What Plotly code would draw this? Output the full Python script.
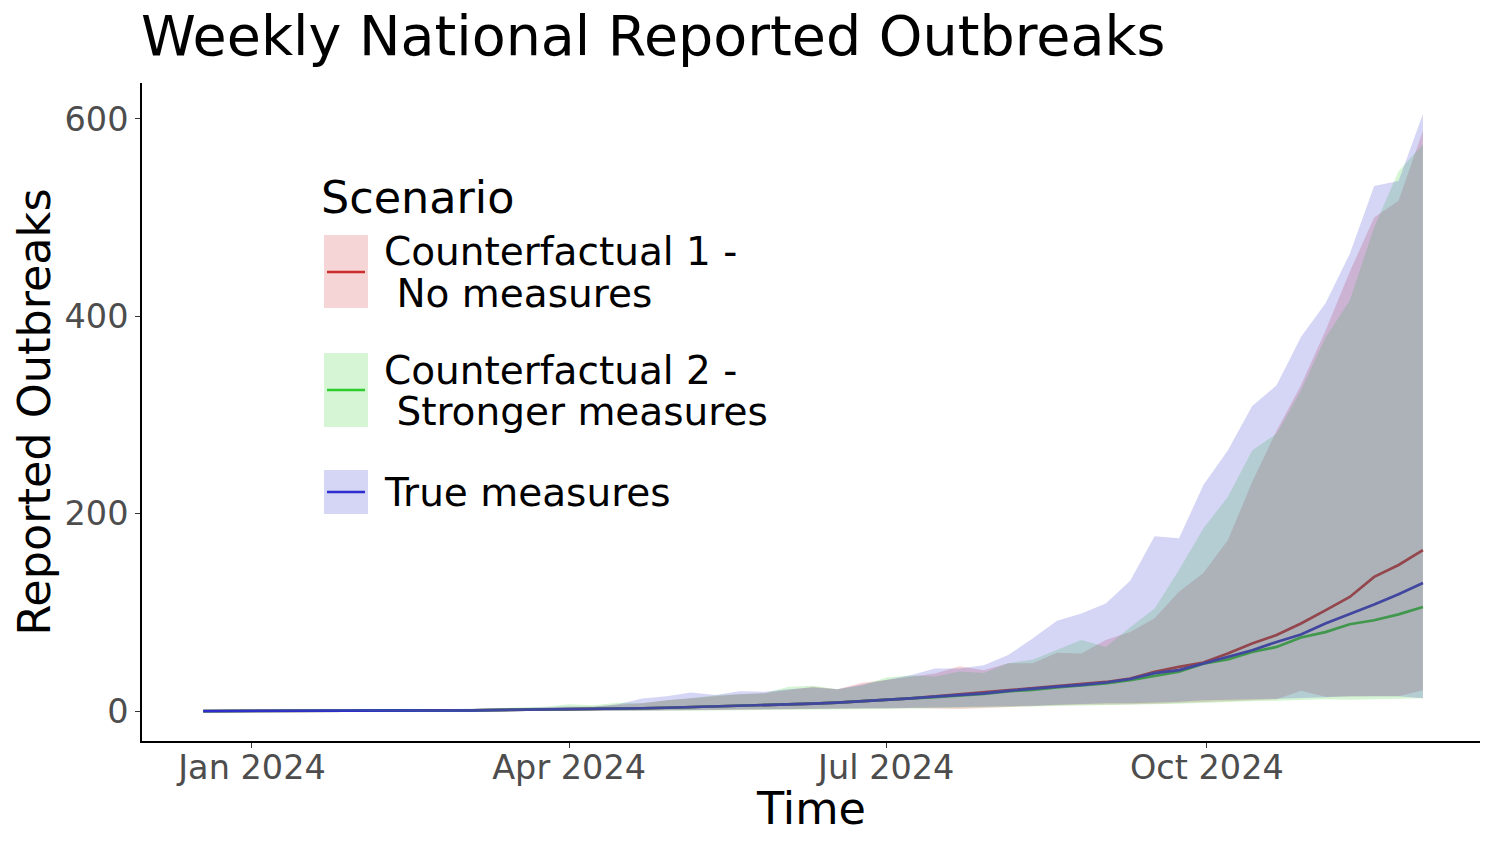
import pandas as pd
import plotly.graph_objects as go

# weekly dates, 18 Dec 2023 -> 2 Dec 2024
dates = pd.date_range("2023-12-18", periods=51, freq="7D")

# median reported outbreaks per scenario
med_cf1 = [0, 0, 0, 0.1, 0.1, 0.2, 0.3, 0.4, 0.5, 0.6,
           0.7, 0.8, 1.0, 1.2, 1.4, 1.7, 2.0, 2.4, 2.9, 3.4,
           4.0, 4.7, 5.4, 6.1, 6.8, 7.6, 8.6, 9.8, 11.2, 12.8,
           15.0, 17.0, 18.8, 21.5, 23.5, 25.0, 26.8, 29.5, 33.0, 39.8,
           44.8, 49.2, 58.4, 68.5, 77.0, 88.7, 102, 115.6, 136, 148, 163]
med_cf2 = [0, 0, 0, 0.1, 0.1, 0.2, 0.3, 0.4, 0.5, 0.6,
           0.7, 0.8, 1.0, 1.2, 1.4, 1.7, 2.0, 2.4, 2.9, 3.4,
           4.0, 4.7, 5.4, 6.1, 6.8, 7.6, 8.6, 9.8, 11.2, 12.8,
           14.2, 15.8, 17.5, 20.0, 21.5, 24.0, 26.0, 28.0, 31.4, 35.7,
           39.8, 48.0, 52.3, 60.0, 65.0, 74.5, 80.0, 88.0, 92.0, 98.0, 105.5]
med_true = [0, 0, 0, 0.1, 0.1, 0.2, 0.3, 0.4, 0.5, 0.6,
            0.7, 0.8, 1.0, 1.2, 1.4, 1.7, 2.0, 2.4, 2.9, 3.4,
            4.0, 4.7, 5.4, 6.1, 6.8, 7.6, 8.6, 9.8, 11.2, 12.8,
            14.6, 16.2, 18.0, 20.5, 22.8, 24.8, 26.5, 29.0, 32.5, 38.5,
            41.5, 48.2, 55.0, 61.7, 70.0, 77.6, 88.7, 98.0, 108, 118.4, 129.8]

# upper bounds
up_cf1 = [0, 0, 0.2, 0.3, 0.4, 0.6, 0.7, 0.9, 1.1, 1.4,
          1.7, 2.0, 2.4, 2.9, 3.5, 4.2, 4.5, 6.5, 8.0, 11,
          13, 15, 17, 18, 21, 24.6, 22, 28.7, 31.4, 34.7,
          38, 45.5, 41.5, 48.5, 48.5, 59, 58.4, 72, 80, 94,
          121, 140, 173, 232, 284, 330, 385, 445, 500, 517, 588]
up_cf2 = [0, 0, 0.2, 0.3, 0.5, 0.6, 0.8, 1.0, 1.3, 1.6,
          2.0, 2.4, 3.0, 3.6, 4.5, 7.0, 6.0, 8.5, 8.0, 11,
          13, 16, 17.2, 18, 24.6, 25.6, 22, 26, 34, 36,
          35, 40, 38.5, 48.5, 52, 62, 72, 65, 85, 104,
          143, 185, 217, 264, 281, 325, 378, 416, 490, 547, 574]
up_true = [0, 0, 0.2, 0.3, 0.4, 0.5, 0.7, 0.9, 1.2, 1.5,
           1.8, 2.1, 2.6, 3.1, 3.8, 4.6, 4.4, 7.0, 12.8, 15,
           18.9, 16.2, 20.2, 19.6, 22, 24, 22, 27, 32, 36.4,
           43.2, 43.2, 46.5, 56.7, 73.5, 91.4, 98.8, 109, 132, 177,
           175, 229, 264, 309, 330, 379, 413, 463, 532, 537, 605]

# lower bounds
lo_cf1 = [0] * 18 + [0.3, 0.5, 0.8, 1.0, 1.2, 1.5, 1.8, 2.0, 2.2, 2.5, 3.0, 3.2,
                     2.5, 2.0, 3.5, 4.4, 5.0, 6.0, 6.5, 7.0, 7.0, 7.5,
                     8.0, 9.5, 10, 11, 12, 20.6, 14.5, 14.5, 15, 15, 21]
lo_cf2 = [0] * 18 + [0.2, 0.3, 0.4, 0.6, 0.8, 1.0, 1.2, 1.4, 1.5, 1.8, 2.0, 2.4,
                     3.0, 3.5, 3.5, 4.0, 4.4, 5.0, 5.5, 6.0, 6.5, 7.0,
                     7.5, 8.5, 9.0, 10, 10.5, 11, 12, 11.5, 12, 12.5, 13]
lo_true = [0] * 18 + [0.3, 0.5, 0.8, 1.0, 1.3, 1.5, 1.8, 2.2, 2.5, 2.8, 3.0, 3.5,
                      3.5, 4.0, 4.5, 5.0, 5.5, 6.5, 7.5, 8.0, 8.0, 8.5,
                      9.5, 11, 11.5, 12, 12.5, 13, 14, 15, 15, 15, 13]

scenarios = [
    ("Counterfactual 1 -", "No measures", med_cf1, lo_cf1, up_cf1, (205, 45, 45)),
    ("Counterfactual 2 -", "Stronger measures", med_cf2, lo_cf2, up_cf2, (45, 205, 45)),
    ("True measures", None, med_true, lo_true, up_true, (45, 45, 205)),
]

FONT = "DejaVu Sans"
W, H = 1500, 850
L, R, T, B = 142, 1480, 83, 741  # plot area in pixels


def px(x):
    return (x - L) / (R - L)


def py(y):
    return (B - y) / (B - T)


fig = go.Figure()

# lines first, ribbons drawn over them (as in the original)
for name1, name2, med, lo, up, c in scenarios:
    fig.add_trace(go.Scatter(x=dates, y=med, mode="lines",
                             line=dict(color="rgb(%d,%d,%d)" % c, width=2.7),
                             showlegend=False, hoverinfo="skip"))

for name1, name2, med, lo, up, c in scenarios:
    xs = list(dates) + list(dates[::-1])
    ys = list(up) + list(lo[::-1])
    fig.add_trace(go.Scatter(x=xs, y=ys, mode="lines", fill="toself",
                             fillcolor="rgba(%d,%d,%d,0.2)" % c,
                             line=dict(width=0), showlegend=False, hoverinfo="skip"))

# hand-drawn legend
shapes = []
annotations = []
annotations.append(dict(text="Scenario", x=px(319), y=py(197), xref="paper", yref="paper",
                        xanchor="left", yanchor="middle", showarrow=False,
                        font=dict(size=44.5, color="black", family=FONT)))
keys = [(235, 308, 272, 252, 293), (353, 427, 390, 370, 411), (470, 514, 492, 492, None)]
for (y0, y1, yl, yt1, yt2), (name1, name2, med, lo, up, c) in zip(keys, scenarios):
    shapes.append(dict(type="rect", xref="paper", yref="paper",
                       x0=px(324), x1=px(368), y0=py(y1), y1=py(y0),
                       fillcolor="rgba(%d,%d,%d,0.2)" % c, line=dict(width=0)))
    shapes.append(dict(type="line", xref="paper", yref="paper",
                       x0=px(327), x1=px(365), y0=py(yl), y1=py(yl),
                       line=dict(color="rgb(%d,%d,%d)" % c, width=2.6)))
    annotations.append(dict(text=name1, x=px(382), y=py(yt1), xref="paper", yref="paper",
                            xanchor="left", yanchor="middle", showarrow=False,
                            font=dict(size=39, color="black", family=FONT)))
    if name2:
        annotations.append(dict(text="\u00a0" + name2, x=px(382), y=py(yt2), xref="paper",
                                yref="paper", xanchor="left", yanchor="middle", showarrow=False,
                                font=dict(size=39, color="black", family=FONT)))

# x axis title placed as annotation to sit closer to the tick labels
annotations.append(dict(text="Time", x=0.5, y=py(808), xref="paper", yref="paper",
                        xanchor="center", yanchor="middle", showarrow=False,
                        font=dict(size=44.5, color="black", family=FONT)))

fig.update_layout(
    width=W, height=H,
    margin=dict(l=L, r=W - R, t=T, b=H - B),
    plot_bgcolor="white", paper_bgcolor="white",
    font=dict(family=FONT, color="black"),
    title=dict(text="Weekly National Reported Outbreaks", x=141 / W, xref="container",
               xanchor="left", y=1 - 36 / H, yref="container", yanchor="middle",
               font=dict(size=55.5, color="black", family=FONT)),
    shapes=shapes, annotations=annotations,
    showlegend=False,
)
fig.update_xaxes(
    range=["2023-11-30 10:30", "2024-12-18 09:00"],
    tickvals=["2024-01-01", "2024-04-01", "2024-07-01", "2024-10-01"],
    ticktext=["Jan 2024", "Apr 2024", "Jul 2024", "Oct 2024"],
    showgrid=False, zeroline=False, showline=True, linecolor="black", linewidth=1.6,
    ticks="outside", ticklen=5, tickwidth=1.4, tickcolor="#333333",
    ticklabelstandoff=-9,
    tickfont=dict(size=33.5, color="#4d4d4d", family=FONT),
)
fig.update_yaxes(
    range=[-30.3, 636.3],
    tickvals=[0, 200, 400, 600],
    showgrid=False, zeroline=False, showline=True, linecolor="black", linewidth=1.6,
    ticks="outside", ticklen=5, tickwidth=1.4, tickcolor="#333333",
    tickfont=dict(size=33.5, color="#4d4d4d", family=FONT),
    title=dict(text="Reported Outbreaks", font=dict(size=44.5, color="black", family=FONT), standoff=0),
)

fig.write_html("out.html", config={"displayModeBar": False},
               post_script="document.body.style.margin = '0';")
